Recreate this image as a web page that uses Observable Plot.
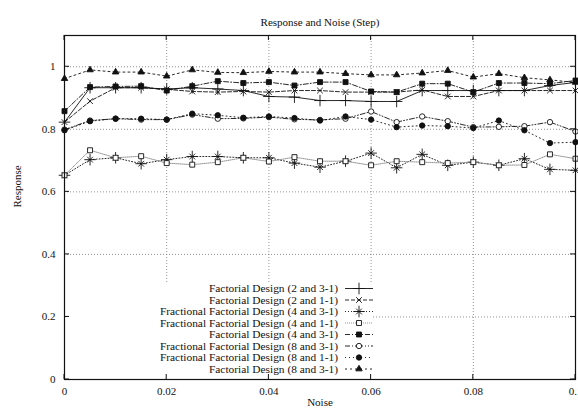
<!DOCTYPE html>
<html>
<head>
<meta charset="utf-8">
<script src="https://cdn.jsdelivr.net/npm/d3@7"></script>
<script src="https://cdn.jsdelivr.net/npm/@observablehq/plot@0.6"></script>
<style>
  body { margin: 0; background: #fff; }
  svg { display: block; }
</style>
</head>
<body>
<div id="chart"></div>
<script>
const FONT = "'Liberation Serif', 'Times New Roman', Times, serif";

// Noise levels (x) shared by every series
const noise = [0, 0.005, 0.01, 0.015, 0.02, 0.025, 0.03, 0.035, 0.04, 0.045, 0.05,
               0.055, 0.06, 0.065, 0.07, 0.075, 0.08, 0.085, 0.09, 0.095, 0.1];

const seriesNames = [
  "Factorial Design (2 and 3-1)",
  "Factorial Design (2 and 1-1)",
  "Fractional Factorial Design (4 and 3-1)",
  "Fractional Factorial Design (4 and 1-1)",
  "Factorial Design (4 and 3-1)",
  "Fractional Factorial Design (8 and 3-1)",
  "Fractional Factorial Design (8 and 1-1)",
  "Factorial Design (8 and 3-1)"
];

// Response for each design
const fd2_31  = [0.823, 0.933, 0.933, 0.933, 0.929, 0.933, 0.929, 0.924, 0.905, 0.903, 0.892,
                 0.892, 0.889, 0.889, 0.924, 0.924, 0.924, 0.924, 0.924, 0.940, 0.950];
const fd2_11  = [0.823, 0.890, 0.933, 0.933, 0.928, 0.921, 0.919, 0.921, 0.919, 0.924, 0.924,
                 0.919, 0.919, 0.919, 0.926, 0.905, 0.905, 0.924, 0.924, 0.924, 0.924];
const ffd4_31 = [0.653, 0.703, 0.709, 0.690, 0.703, 0.713, 0.713, 0.709, 0.709, 0.692, 0.679,
                 0.698, 0.724, 0.677, 0.720, 0.685, 0.695, 0.685, 0.706, 0.672, 0.669];
const ffd4_11 = [0.653, 0.733, 0.709, 0.714, 0.692, 0.687, 0.695, 0.709, 0.697, 0.711, 0.698,
                 0.698, 0.685, 0.698, 0.695, 0.692, 0.695, 0.685, 0.686, 0.720, 0.706];
const fd4_31  = [0.858, 0.935, 0.937, 0.938, 0.924, 0.938, 0.954, 0.948, 0.951, 0.940, 0.951,
                 0.951, 0.921, 0.919, 0.946, 0.946, 0.919, 0.948, 0.948, 0.946, 0.956];
const ffd8_31 = [0.799, 0.828, 0.834, 0.831, 0.831, 0.847, 0.834, 0.835, 0.839, 0.832, 0.830,
                 0.834, 0.857, 0.823, 0.841, 0.826, 0.807, 0.808, 0.810, 0.823, 0.793];
const ffd8_11 = [0.797, 0.826, 0.834, 0.834, 0.831, 0.850, 0.845, 0.837, 0.841, 0.836, 0.828,
                 0.841, 0.831, 0.807, 0.812, 0.810, 0.804, 0.828, 0.797, 0.756, 0.759];
const fd8_31  = [0.962, 0.990, 0.983, 0.983, 0.970, 0.990, 0.982, 0.981, 0.985, 0.983, 0.983,
                 0.978, 0.974, 0.974, 0.980, 0.988, 0.967, 0.978, 0.965, 0.958, 0.950];

const seriesValues = [fd2_31, fd2_11, ffd4_31, ffd4_11, fd4_31, ffd8_31, ffd8_11, fd8_31];

const xTicks = [0, 0.02, 0.04, 0.06, 0.08, 0.1];
const yTicks = [0, 0.2, 0.4, 0.6, 0.8, 1];
const xGrid = [0.02, 0.04, 0.06, 0.08];
const yGrid = [0.2, 0.4, 0.6, 0.8, 1];

// Line type and point type per series
const styles = [
  { dash: null,           stroke: "#111", symbols: ["plus"],          fill: "none"  },
  { dash: "4,2",          stroke: "#111", symbols: ["times"],         fill: "none"  },
  { dash: "1,2",          stroke: "#111", symbols: ["plus", "times"], fill: "none"  },
  { dash: "1,1",          stroke: "#888", symbols: ["square"],        fill: "white" },
  { dash: "5,2,1,2",      stroke: "#111", symbols: ["square"],        fill: "#111"  },
  { dash: "5,2,1,2,1,2",  stroke: "#111", symbols: ["circle"],        fill: "white" },
  { dash: "1,3",          stroke: "#111", symbols: ["circle"],        fill: "#111"  },
  { dash: "2,3",          stroke: "#111", symbols: ["triangle"],      fill: "#111"  }
];

const d3Symbols = {
  plus: d3.symbolPlus, times: d3.symbolTimes, square: d3.symbolSquare,
  circle: d3.symbolCircle, triangle: d3.symbolTriangle
};
// Point radius per symbol so every glyph spans about 5–6 px
const symbolR = { plus: 3.8, times: 2.7, square: 2.8, circle: 2.7, triangle: 2.4 };

const rows = seriesNames.flatMap((name, s) =>
  noise.map((n, i) => ({ series: s, name, noise: n, response: seriesValues[s][i] })));

// Key blanking, legend entries drawn in the lower middle of the frame
function keyBox(index, scales, values, dims) {
  const g = d3.create("svg:g");
  const left = dims.marginLeft + 1;
  const bottom = dims.height - dims.marginBottom - 1;
  g.append("rect").attr("x", left).attr("y", 283)
    .attr("width", 372 - left).attr("height", bottom - 283).attr("fill", "white");
  return g.node();
}

function legend(index, scales, values, dims) {
  const g = d3.create("svg:g").attr("font-family", FONT).attr("font-size", 11.4);
  const textRight = 338, lineX1 = 345, lineX2 = 373, markX = 359;
  seriesNames.forEach((name, i) => {
    const st = styles[i];
    const y = 288.5 + i * 11.5;
    g.append("text").attr("x", textRight).attr("y", y).attr("dy", "0.32em")
      .attr("text-anchor", "end").attr("fill", "#111").text(name);
    g.append("line").attr("x1", lineX1).attr("x2", lineX2).attr("y1", y).attr("y2", y)
      .attr("stroke", st.stroke).attr("stroke-width", 0.9)
      .attr("stroke-dasharray", st.dash);
    for (const sym of st.symbols) {
      const r = symbolR[sym];
      g.append("path").attr("transform", `translate(${markX},${y})`)
        .attr("d", d3.symbol(d3Symbols[sym], r * r * Math.PI)())
        .attr("fill", st.fill).attr("stroke", "#111").attr("stroke-width", 0.9);
    }
  });
  return g.node();
}

// Inward tick marks on all four sides of the border
function borderTicks(index, { x, y }, values, dims) {
  const g = d3.create("svg:g").attr("stroke", "#111").attr("stroke-width", 1);
  const x0 = dims.marginLeft, x1 = dims.width - dims.marginRight;
  const y0 = dims.marginTop, y1 = dims.height - dims.marginBottom;
  const L = 5;
  for (const t of yTicks) {
    const py = y(t);
    g.append("line").attr("x1", x0).attr("x2", x0 + L).attr("y1", py).attr("y2", py);
    g.append("line").attr("x1", x1).attr("x2", x1 - L).attr("y1", py).attr("y2", py);
  }
  for (const t of xTicks) {
    const px = x(t);
    g.append("line").attr("x1", px).attr("x2", px).attr("y1", y1).attr("y2", y1 - L);
    g.append("line").attr("x1", px).attr("x2", px).attr("y1", y0).attr("y2", y0 + L);
  }
  return g.node();
}

const seriesMarks = styles.flatMap((st, s) => {
  const data = rows.filter(d => d.series === s);
  return [
    Plot.line(data, { x: "noise", y: "response", stroke: st.stroke, strokeWidth: 0.9,
                      strokeDasharray: st.dash ?? undefined }),
    ...st.symbols.map(sym => Plot.dot(data, { x: "noise", y: "response", symbol: () => sym,
                      r: symbolR[sym], fill: st.fill, stroke: "#111", strokeWidth: 0.9 }))
  ];
});

const fmt = d3.format("~g");

const chart = Plot.plot({
  width: 578,
  height: 413,
  marginLeft: 64,
  marginRight: 3,
  marginTop: 35,
  marginBottom: 34,
  style: { fontFamily: FONT, fontSize: "11px", color: "#111", background: "white" },
  x: { domain: [0, 0.1] },
  y: { domain: [0, 1.1] },
  symbol: { type: "identity" },
  marks: [
    Plot.ruleY(yGrid, { stroke: "#777", strokeWidth: 0.8, strokeDasharray: "1,2" }),
    Plot.ruleX(xGrid, { stroke: "#777", strokeWidth: 0.8, strokeDasharray: "1,2" }),
    keyBox,
    ...seriesMarks,
    legend,
    Plot.frame({ stroke: "#111", strokeWidth: 1.2 }),
    borderTicks,
    Plot.axisX(xTicks, { tickSize: 0, tickPadding: 8, tickFormat: fmt, label: null, fontSize: 11 }),
    Plot.axisY(yTicks, { tickSize: 0, tickPadding: 9, tickFormat: fmt, label: null, fontSize: 11 }),
    Plot.text(["Noise"], { frameAnchor: "bottom", dy: 26, fontSize: 11, fill: "#111" }),
    Plot.text(["Response"], { frameAnchor: "left", dx: -47, rotate: -90, fontSize: 11, fill: "#111" }),
    Plot.text(["Response and Noise (Step)"], { frameAnchor: "top", dy: -17, fontSize: 11, fill: "#111" })
  ]
});

document.getElementById("chart").appendChild(chart);
</script>
</body>
</html>
